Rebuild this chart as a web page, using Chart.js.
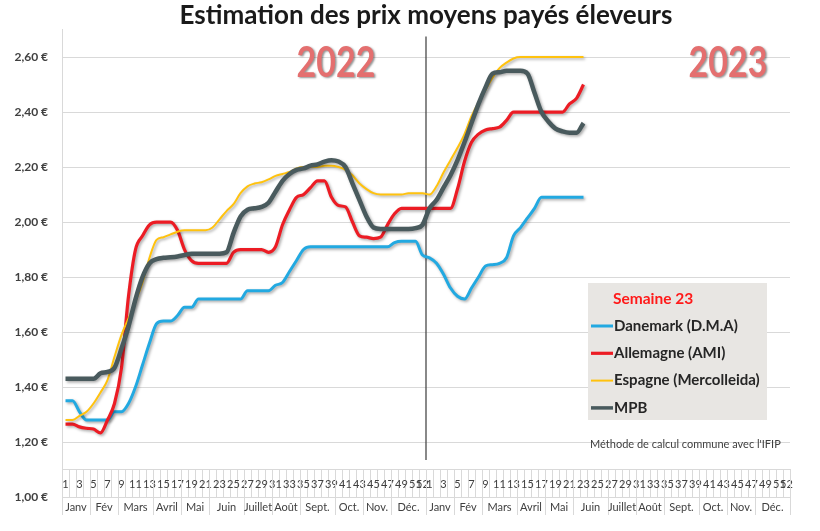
<!DOCTYPE html>
<html>
<head>
<meta charset="utf-8">
<script src="https://cdn.jsdelivr.net/npm/chart.js@4.4.1/dist/chart.umd.min.js"></script>
<style>
  html, body { margin: 0; padding: 0; background: #fff; }
  #wrap { width: 820px; height: 531px; }
</style>
</head>
<body>
<div id="wrap"><canvas id="chart"></canvas></div>
<script>
/* Prix moyens payés éleveurs 2022-2023 (semaines) */

const WEEKS = [1, 2, 3, 4, 5, 6, 7, 8, 9, 10, 11, 12, 13, 14, 15, 16, 17, 18, 19, 20, 21, 22, 23, 24, 25, 26,
  27, 28, 29, 30, 31, 32, 33, 34, 35, 36, 37, 38, 39, 40, 41, 42, 43, 44, 45, 46, 47, 48, 49, 50, 51, 52];
const MONTHS = ["Janv", "Fév", "Mars", "Avril", "Mai", "Juin", "Juillet", "Août", "Sept.", "Oct.", "Nov.", "Déc."];
const MONTH_WEEKS = [4, 4, 5, 4, 4, 5, 4, 4, 5, 4, 4, 5];
const YEARS = ["2022", "2023"];

const DK_2022 = [1.35, 1.35, 1.31, 1.28, 1.28, 1.28, 1.28, 1.31, 1.31, 1.34, 1.40, 1.48, 1.56, 1.63, 1.64, 1.64,
  1.66, 1.69, 1.69, 1.72, 1.72, 1.72, 1.72, 1.72, 1.72, 1.72, 1.75, 1.75, 1.75, 1.75, 1.77, 1.78, 1.82, 1.86,
  1.90, 1.91, 1.91, 1.91, 1.91, 1.91, 1.91, 1.91, 1.91, 1.91, 1.91, 1.91, 1.91, 1.925, 1.93, 1.93, 1.93, 1.88];
const DK_2023 = [1.87, 1.85, 1.81, 1.76, 1.73, 1.72, 1.76, 1.80, 1.84, 1.845, 1.85, 1.87, 1.95, 1.98, 2.015,
  2.05, 2.09, 2.09, 2.09, 2.09, 2.09, 2.09, 2.09];

const DE_2022 = [1.265, 1.265, 1.255, 1.25, 1.247, 1.233, 1.28, 1.34, 1.47, 1.73, 1.90, 1.95, 1.99, 2.00, 2.00,
  2.00, 1.97, 1.90, 1.86, 1.85, 1.85, 1.85, 1.85, 1.85, 1.89, 1.90, 1.90, 1.90, 1.90, 1.89, 1.91, 1.99, 2.045,
  2.09, 2.10, 2.125, 2.15, 2.15, 2.09, 2.06, 2.055, 2.00, 1.95, 1.945, 1.94, 1.945, 1.99, 2.03, 2.05, 2.05, 2.05, 2.05];
const DE_2023 = [2.05, 2.05, 2.05, 2.05, 2.12, 2.22, 2.29, 2.32, 2.335, 2.34, 2.345, 2.37, 2.40, 2.40, 2.40,
  2.40, 2.40, 2.40, 2.40, 2.40, 2.43, 2.45, 2.50];

const ES_2022 = [1.28, 1.28, 1.295, 1.31, 1.34, 1.38, 1.425, 1.51, 1.59, 1.65, 1.71, 1.78, 1.87, 1.935, 1.945,
  1.955, 1.965, 1.97, 1.97, 1.97, 1.97, 1.98, 2.01, 2.04, 2.065, 2.105, 2.13, 2.14, 2.145, 2.155, 2.168, 2.175,
  2.182, 2.195, 2.20, 2.20, 2.20, 2.205, 2.205, 2.20, 2.19, 2.17, 2.14, 2.12, 2.105, 2.10, 2.10, 2.10, 2.10,
  2.105, 2.105, 2.105];
const ES_2023 = [2.10, 2.13, 2.18, 2.225, 2.27, 2.32, 2.385, 2.435, 2.48, 2.525, 2.56, 2.58, 2.595, 2.60, 2.60,
  2.60, 2.60, 2.60, 2.60, 2.60, 2.60, 2.60, 2.60];

const MPB_2022 = [1.43, 1.43, 1.43, 1.43, 1.43, 1.45, 1.455, 1.47, 1.54, 1.62, 1.72, 1.80, 1.85, 1.865, 1.87,
  1.872, 1.875, 1.88, 1.885, 1.885, 1.885, 1.885, 1.885, 1.89, 1.96, 2.02, 2.045, 2.05, 2.055, 2.07, 2.11, 2.15,
  2.175, 2.19, 2.195, 2.205, 2.21, 2.22, 2.225, 2.22, 2.20, 2.14, 2.08, 2.02, 1.98, 1.975, 1.975, 1.975, 1.975,
  1.975, 1.978, 1.99];
const MPB_2023 = [2.05, 2.08, 2.125, 2.17, 2.225, 2.29, 2.36, 2.43, 2.49, 2.54, 2.545, 2.55, 2.55, 2.55, 2.54,
  2.47, 2.40, 2.365, 2.34, 2.33, 2.325, 2.325, 2.36];

const FONT = "Lato";
const GRID = "#d9d9d9";
const TXT = "#404040";

const LABELS = WEEKS.concat(WEEKS);

const series = [
  { label: "Danemark (D.M.A)", data: DK_2022.concat(DK_2023), color: "#22a9e1", width: 3, order: 4 },
  { label: "Allemagne (AMI)", data: DE_2022.concat(DE_2023), color: "#ec1c24", width: 3.2, order: 3 },
  { label: "Espagne (Mercolleida)", data: ES_2022.concat(ES_2023), color: "#ffc20e", width: 2, order: 2 },
  { label: "MPB", data: MPB_2022.concat(MPB_2023), color: "#495a5d", width: 4.5, order: 1 },
];

// ombre portée des courbes
const shadowPlugin = {
  id: "shadow",
  beforeDatasetDraw(chart) {
    const ctx = chart.ctx;
    ctx.save();
    ctx.shadowColor = "rgba(0,0,0,0.35)";
    ctx.shadowBlur = 3;
    ctx.shadowOffsetX = 1.5;
    ctx.shadowOffsetY = 1.5;
  },
  afterDatasetDraw(chart) {
    chart.ctx.restore();
  },
};

// séparateur d'années, mois, années, légende
const decorPlugin = {
  id: "decor",
  beforeDatasetsDraw(chart) {
    const { ctx, scales: { x, y } } = chart;
    const sx = x.getPixelForValue(WEEKS.length - 0.5);
    ctx.save();
    ctx.strokeStyle = "#3a3a3a";
    ctx.lineWidth = 1.2;
    ctx.beginPath();
    ctx.moveTo(sx, y.getPixelForValue(2.675));
    ctx.lineTo(sx, y.getPixelForValue(1.135));
    ctx.stroke();
    ctx.restore();
  },
  afterDraw(chart) {
    const { ctx, scales: { x, y } } = chart;
    const top = y.getPixelForValue(1.1);
    const mid = y.getPixelForValue(1.0);
    ctx.save();

    // ligne des mois
    ctx.strokeStyle = GRID;
    ctx.lineWidth = 1;
    ctx.fillStyle = TXT;
    ctx.font = `11px ${FONT}`;
    ctx.textAlign = "center";
    ctx.textBaseline = "middle";
    YEARS.forEach((yr, yi) => {
      let start = yi * WEEKS.length;
      MONTHS.forEach((m, mi) => {
        const end = start + MONTH_WEEKS[mi];
        const bx = Math.round(x.getPixelForValue(start - 0.5)) + 0.5;
        ctx.beginPath();
        ctx.moveTo(bx, top);
        ctx.lineTo(bx, mid + 18);
        ctx.stroke();
        ctx.fillText(m, x.getPixelForValue((start + end) / 2 - 0.5), mid + 10);
        start = end;
      });
    });
    const ex = Math.round(x.getPixelForValue(LABELS.length - 0.5)) + 0.5;
    ctx.beginPath();
    ctx.moveTo(ex, top);
    ctx.lineTo(ex, mid + 18);
    ctx.stroke();

    // années
    ctx.font = `bold 34px ${FONT}`;
    ctx.fillStyle = "#e46f6f";
    ctx.shadowColor = "rgba(60,60,60,0.55)";
    ctx.shadowBlur = 2;
    ctx.shadowOffsetX = 1.5;
    ctx.shadowOffsetY = 1.5;
    [[336, 63], [728, 63]].forEach(([px, py], i) => {
      ctx.save();
      ctx.translate(px, py);
      ctx.scale(1, 1.25);
      ctx.fillText(YEARS[i], 0, 0);
      ctx.restore();
    });
    ctx.shadowColor = "transparent";

    // légende
    const lx = 588, ly = 283;
    ctx.fillStyle = "#e8e6e3";
    ctx.fillRect(lx, ly, 179, 137);
    ctx.textAlign = "left";
    ctx.font = `bold 15.5px ${FONT}`;
    ctx.fillStyle = "#ff1a1a";
    ctx.fillText("Semaine 23", lx + 25, ly + 16);
    ctx.font = `bold 15px ${FONT}`;
    series.forEach((s, i) => {
      const cy = ly + 43 + i * 27.3;
      ctx.strokeStyle = s.color;
      ctx.lineWidth = Math.min(s.width, 3.5);
      ctx.beginPath();
      ctx.moveTo(lx + 3, cy);
      ctx.lineTo(lx + 25, cy);
      ctx.stroke();
      ctx.fillStyle = "#262626";
      ctx.fillText(s.label, lx + 26, cy);
    });

    ctx.font = `11px ${FONT}`;
    ctx.fillStyle = TXT;
    ctx.fillText("Méthode de calcul commune avec l'IFIP", lx + 2, 444);
    ctx.restore();
  },
};

new Chart(document.getElementById("chart"), {
  type: "line",
  data: {
    labels: LABELS,
    datasets: series.map((s) => ({
      label: s.label,
      data: s.data,
      borderColor: s.color,
      backgroundColor: s.color,
      borderWidth: s.width,
      pointRadius: 0,
      fill: false,
      cubicInterpolationMode: "monotone",
      order: s.order,
    })),
  },
  options: {
    responsive: true,
    maintainAspectRatio: false,
    animation: false,
    layout: { padding: { left: 0, right: 30, top: 0, bottom: 34 } },
    plugins: {
      legend: { display: false },
      tooltip: { enabled: false },
      title: {
        display: true,
        fullSize: false,
        text: "Estimation des prix moyens payés éleveurs",
        color: "#1a1a1a",
        font: { family: FONT, size: 26, weight: "bold", lineHeight: 1.1 },
        padding: { top: 1, bottom: 0 },
      },
    },
    scales: {
      x: {
        type: "category",
        offset: true,
        position: { y: 1.1 },
        border: { display: true, color: GRID },
        grid: { offset: true, drawOnChartArea: false, drawTicks: true, tickLength: 27, color: GRID },
        ticks: {
          autoSkip: false,
          maxRotation: 0,
          padding: -19,
          color: TXT,
          font: { family: FONT, size: 11 },
          callback: (v, i) => {
            const w = LABELS[i];
            return w % 2 === 1 || w === 52 ? String(w) : "";
          },
        },
      },
      y: {
        min: 1.0,
        max: 2.7,
        afterBuildTicks: (s) => {
          s.ticks = s.ticks.filter((t) => Math.abs(t.value * 5 - Math.round(t.value * 5)) < 1e-6);
        },
        afterFit: (s) => { s.width = 62; },
        border: { display: true, color: GRID },
        grid: { color: GRID, drawTicks: false },
        ticks: {
          stepSize: 0.2,
          padding: 14,
          color: TXT,
          font: { family: FONT, size: 12, weight: "bold" },
          callback: (v) => v.toFixed(2).replace(".", ",") + " €",
        },
      },
    },
  },
  plugins: [shadowPlugin, decorPlugin],
});
</script>
</body>
</html>
